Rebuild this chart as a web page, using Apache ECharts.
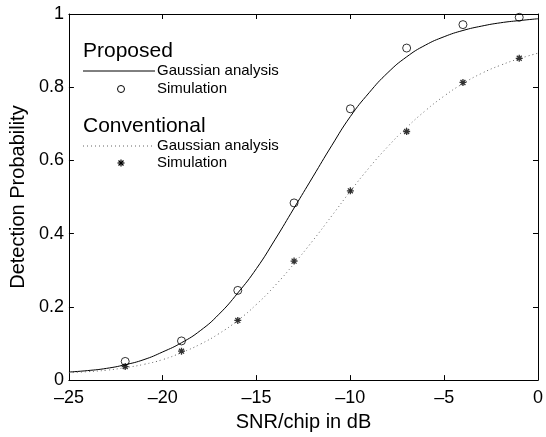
<!DOCTYPE html>
<html>
<head>
<meta charset="utf-8">
<script src="https://cdn.jsdelivr.net/npm/echarts@6/dist/echarts.min.js"></script>
<style>html,body{margin:0;padding:0;background:#fff}#c{width:546px;height:437px}</style>
</head>
<body>
<div id="c"></div>
<script>
// ---- data ----
var curveX = [-25,-24,-23,-22,-21,-20,-19,-18,-17,-16,-15,-14,-13,-12,-11,-10,-9,-8,-7,-6,-5,-4,-3,-2,-1,0];
var proposedGauss = [0.022,0.026,0.032,0.042,0.056,0.077,0.102,0.135,0.180,0.238,0.305,0.385,0.470,0.555,0.640,0.720,0.785,0.840,0.883,0.915,0.938,0.955,0.967,0.976,0.982,0.987];
var conventionalGauss = [0.020,0.023,0.027,0.034,0.043,0.056,0.075,0.098,0.127,0.163,0.207,0.259,0.318,0.381,0.448,0.516,0.580,0.638,0.690,0.736,0.776,0.810,0.838,0.860,0.878,0.893];
var simX = [-22,-19,-16,-13,-10,-7,-4,-1];
var proposedSim = [0.051,0.107,0.245,0.484,0.741,0.907,0.971,0.991];
var conventionalSim = [0.037,0.079,0.163,0.325,0.517,0.679,0.813,0.879];
var xTicks = {min:-25, max:0, interval:5};
var yTicks = {min:0, max:1, interval:0.2};

function pairs(xs, ys){ return xs.map(function(x,i){ return [x, ys[i]]; }); }

var FONT = 'Liberation Sans, Arial, Helvetica, sans-serif';
var STAR = 'path://M0,-10L0,10M-10,0L10,0M-7.07,-7.07L7.07,7.07M-7.07,7.07L7.07,-7.07';

var chart = echarts.init(document.getElementById('c'), null, {renderer:'canvas'});
function fmt(v){ var s = String(Math.round(v*10)/10); return s.replace('-', '\u2013'); }

var axisCommon = {
  axisLine:{show:true, onZero:false, lineStyle:{color:'#000', width:1}},
  axisTick:{show:true, inside:true, length:5, lineStyle:{color:'#000', width:1}},
  splitLine:{show:false}
};

var option = {
  animation:false,
  backgroundColor:'#fff',
  grid:{left:64, right:7, top:14, bottom:48, containLabel:false},
  xAxis:[
    Object.assign({type:'value', position:'bottom', min:xTicks.min, max:xTicks.max, interval:xTicks.interval,
      name:'SNR/chip in dB', nameLocation:'middle', nameGap:26,
      nameTextStyle:{fontFamily:FONT, fontSize:20, color:'#000'},
      axisLabel:{fontFamily:FONT, fontSize:18, color:'#000', margin:9, formatter:fmt}}, axisCommon),
    Object.assign({type:'value', position:'top', min:xTicks.min, max:xTicks.max, interval:xTicks.interval,
      axisLabel:{show:false}}, axisCommon)
  ],
  yAxis:[
    Object.assign({type:'value', position:'left', min:yTicks.min, max:yTicks.max, interval:yTicks.interval,
      name:'Detection Probability', nameLocation:'middle', nameGap:37, nameRotate:90,
      nameTextStyle:{fontFamily:FONT, fontSize:20, color:'#000'},
      axisLabel:{fontFamily:FONT, fontSize:18, color:'#000', margin:5, formatter:fmt}}, axisCommon),
    Object.assign({type:'value', position:'right', min:yTicks.min, max:yTicks.max, interval:yTicks.interval,
      axisLabel:{show:false}}, axisCommon)
  ],
  series:[
    {type:'line', name:'Proposed Gaussian analysis', data:pairs(curveX, proposedGauss), smooth:true,
      showSymbol:false, lineStyle:{color:'#000', width:1}, z:2},
    {type:'line', name:'Conventional Gaussian analysis', data:pairs(curveX, conventionalGauss), smooth:true,
      showSymbol:false, lineStyle:{color:'#666', width:1, type:[1,3]}, z:2},
    {type:'scatter', name:'Proposed Simulation', data:pairs(simX, proposedSim), symbol:'circle', symbolSize:8,
      itemStyle:{color:'rgba(0,0,0,0)', borderColor:'#000', borderWidth:1}, z:3},
    {type:'scatter', name:'Conventional Simulation', data:pairs(simX, conventionalSim), symbol:STAR, symbolSize:7,
      itemStyle:{color:'rgba(0,0,0,0)', borderColor:'#000', borderWidth:1.3}, z:3}
  ],
  graphic:[
    {type:'text', left:83, top:41, style:{text:'Proposed', font:'21px '+FONT, fill:'#000'}},
    {type:'line', shape:{x1:83, y1:71, x2:155, y2:71}, style:{stroke:'#000', lineWidth:1}},
    {type:'text', left:157, top:63, style:{text:'Gaussian analysis', font:'15px '+FONT, fill:'#000'}},
    {type:'circle', shape:{cx:121, cy:89, r:3.5}, style:{fill:'none', stroke:'#000', lineWidth:1}},
    {type:'text', left:157, top:81, style:{text:'Simulation', font:'15px '+FONT, fill:'#000'}},
    {type:'text', left:83, top:116, style:{text:'Conventional', font:'21px '+FONT, fill:'#000'}},
    {type:'line', shape:{x1:83, y1:146, x2:155, y2:146}, style:{stroke:'#666', lineWidth:1, lineDash:[1,3]}},
    {type:'text', left:157, top:138, style:{text:'Gaussian analysis', font:'15px '+FONT, fill:'#000'}},
    {type:'group', x:121, y:163, children:[
      {type:'line', shape:{x1:0,y1:-3.5,x2:0,y2:3.5}, style:{stroke:'#000', lineWidth:1.2}},
      {type:'line', shape:{x1:-3.5,y1:0,x2:3.5,y2:0}, style:{stroke:'#000', lineWidth:1.2}},
      {type:'line', shape:{x1:-2.5,y1:-2.5,x2:2.5,y2:2.5}, style:{stroke:'#000', lineWidth:1.2}},
      {type:'line', shape:{x1:-2.5,y1:2.5,x2:2.5,y2:-2.5}, style:{stroke:'#000', lineWidth:1.2}}
    ]},
    {type:'text', left:157, top:155, style:{text:'Simulation', font:'15px '+FONT, fill:'#000'}}
  ]
};
chart.setOption(option);
</script>
</body>
</html>
